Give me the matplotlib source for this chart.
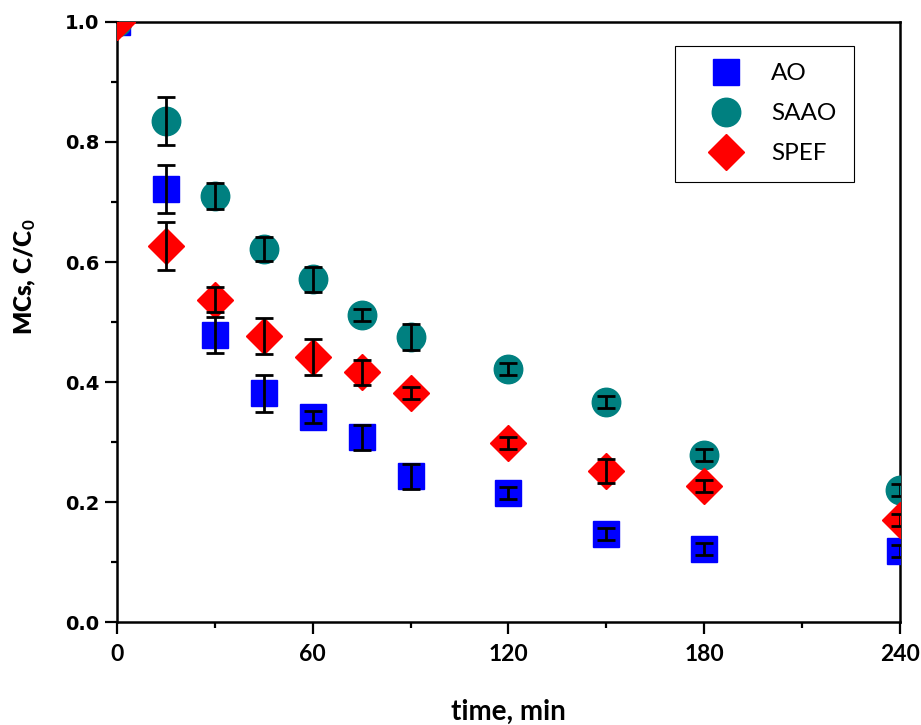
import numpy as np
import matplotlib
matplotlib.use("Agg")
import matplotlib.pyplot as plt
from matplotlib.ticker import MultipleLocator, FormatStrFormatter
from matplotlib.lines import Line2D

plt.rcParams['mathtext.fontset'] = 'custom'
plt.rcParams['mathtext.rm'] = 'Lato:bold'
plt.rcParams['mathtext.default'] = 'rm'

# sampling times (min) and normalised concentration C/C0 with std. deviations
time = [0, 15, 30, 45, 60, 75, 90, 120, 150, 180, 240]

ao = [1.0, 0.722, 0.478, 0.381, 0.342, 0.308, 0.243, 0.215, 0.147, 0.122, 0.119]
ao_err = [0, 0.04, 0.03, 0.031, 0.01, 0.021, 0.021, 0.01, 0.01, 0.01, 0.01]

saao = [1.0, 0.835, 0.71, 0.622, 0.571, 0.511, 0.475, 0.421, 0.367, 0.278, 0.22]
saao_err = [0, 0.04, 0.021, 0.02, 0.021, 0.01, 0.021, 0.01, 0.01, 0.01, 0.01]

spef = [1.0, 0.627, 0.537, 0.477, 0.441, 0.416, 0.382, 0.299, 0.251, 0.227, 0.17]
spef_err = [0, 0.04, 0.021, 0.03, 0.03, 0.021, 0.01, 0.01, 0.02, 0.01, 0.01]

labels = ['AO', 'SAAO', 'SPEF']
colors = ['#0000FF', '#008080', '#FF0000']
markers = ['s', 'o', 'D']
sizes = [18.5, 20.5, 18.5]

fig = plt.figure(figsize=(9.21, 7.25), dpi=100)
ax = fig.add_axes([0.127, 0.142, 0.8502, 0.8277])

series = [(ao, ao_err), (saao, saao_err), (spef, spef_err)]
handles = []
for (y, e), lab, c, m, ms in zip(series, labels, colors, markers, sizes):
    ax.plot(time, y, linestyle='none', marker=m, ms=ms, color=c,
            mec=c, mew=1, zorder=3)
    handles.append(Line2D([], [], linestyle='none', marker=m, ms=ms,
                          color=c, mec=c, mew=1, label=lab))

# error bars on top of the symbols
for y, e in series:
    ax.errorbar(time[1:], y[1:], yerr=e[1:], fmt='none', ecolor='black',
                elinewidth=2, capsize=6.5, capthick=2, zorder=5)

ax.set_xlim(0, 240)
ax.set_ylim(0, 1.0)
ax.xaxis.set_major_locator(MultipleLocator(60))
ax.xaxis.set_minor_locator(MultipleLocator(30))
ax.yaxis.set_major_locator(MultipleLocator(0.2))
ax.yaxis.set_minor_locator(MultipleLocator(0.1))
ax.yaxis.set_major_formatter(FormatStrFormatter('%.1f'))

for sp in ax.spines.values():
    sp.set_linewidth(1.8)
ax.tick_params(which='both', direction='out', top=False, right=False, width=1.6)
ax.tick_params(which='major', length=8.5)
ax.tick_params(which='minor', length=4.5)
ax.tick_params(axis='x', pad=7)
ax.tick_params(axis='y', pad=4)

for t in ax.get_xticklabels():
    t.set_fontfamily('Lato')
    t.set_fontweight('bold')
    t.set_fontsize(16.5)
for t in ax.get_yticklabels():
    t.set_fontfamily('DejaVu Sans')
    t.set_fontweight('bold')
    t.set_fontsize(14)

fig.text(508 / 921, 1 - 712 / 725, 'time, min', family='Lato', weight='bold',
         fontsize=20, ha='center', va='center')
fig.text(25 / 921, 1 - 277 / 725, 'MCs, C/C$_0$', family='Lato', weight='heavy',
         fontsize=17.5, ha='center', va='center', rotation=90)

leg = ax.legend(handles=handles, loc='upper right',
                bbox_to_anchor=(0.941, 0.96), prop={'family': 'Lato', 'size': 17.5},
                frameon=True, fancybox=False, framealpha=1, borderpad=0.72,
                handlelength=2.8, handletextpad=0.45, labelspacing=0.78,
                borderaxespad=0)
leg.get_frame().set_edgecolor('black')
leg.get_frame().set_linewidth(0.8)

fig.savefig('out.png', dpi=100)
